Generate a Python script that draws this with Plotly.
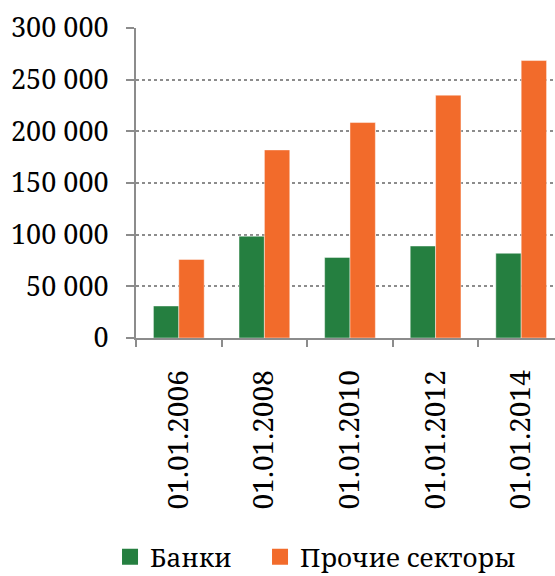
import plotly.graph_objects as go

# Data (values read per reporting date)
dates = ["01.01.2006", "01.01.2008", "01.01.2010", "01.01.2012", "01.01.2014"]
banks = [31000, 98500, 78000, 89000, 82000]
other_sectors = [76000, 182000, 208500, 235000, 268500]
series_names = ["Банки", "Прочие секторы"]
y_ticks = [0, 50000, 100000, 150000, 200000, 250000, 300000]

GREEN = "#257F40"
ORANGE = "#F26B2B"
AXIS = "#8c8c8c"
FONT = "Noto Serif, DejaVu Serif"

fig = go.Figure()
for vals, color in [(banks, GREEN), (other_sectors, ORANGE)]:
    fig.add_trace(go.Bar(
        x=dates, y=vals,
        marker=dict(color=color, line=dict(color="rgba(255,255,255,0.45)", width=1)),
        showlegend=False,
    ))

# legend entries with larger square swatches, one legend box per series
for name, color, lg in zip(series_names, [GREEN, ORANGE], ["legend", "legend2"]):
    fig.add_trace(go.Scatter(
        x=[None], y=[None], mode="markers", name=name, legend=lg,
        marker=dict(symbol="square", size=16, color=color),
    ))

legend_style = dict(
    orientation="h", xanchor="left", y=-0.706, yanchor="middle",
    font=dict(family=FONT, size=26, color="black"),
    bgcolor="rgba(0,0,0,0)",
)

fig.update_layout(
    width=555, height=576,
    margin=dict(l=136, r=0, t=28, b=238, autoexpand=False),
    paper_bgcolor="white", plot_bgcolor="white",
    barmode="group", bargap=0.407, bargroupgap=0,
    separators=", ",
    font=dict(family=FONT, color="black"),
    legend=dict(x=-0.062, **legend_style),
    legend2=dict(x=0.296, **legend_style),
)

fig.update_xaxes(
    type="category", range=[-0.5, 4.395],
    showline=True, linecolor=AXIS, linewidth=2,
    ticks="outside", tickson="boundaries", ticklen=7, tickcolor=AXIS, tickwidth=2,
    tickangle=-90, tickfont=dict(family=FONT, size=28, color="black"),
    ticklabelstandoff=19, showgrid=False, automargin=False,
)
fig.update_yaxes(
    range=[0, 300000], tickvals=y_ticks, tickformat=",d",
    showline=True, linecolor=AXIS, linewidth=2,
    ticks="outside", ticklen=8, tickcolor=AXIS, tickwidth=2,
    tickfont=dict(family=FONT, size=27, color="black"),
    ticklabelstandoff=12,
    showgrid=True, gridcolor=AXIS, griddash="dot", gridwidth=1.5,
    zeroline=False, automargin=False,
)

fig.write_html("out.html")
